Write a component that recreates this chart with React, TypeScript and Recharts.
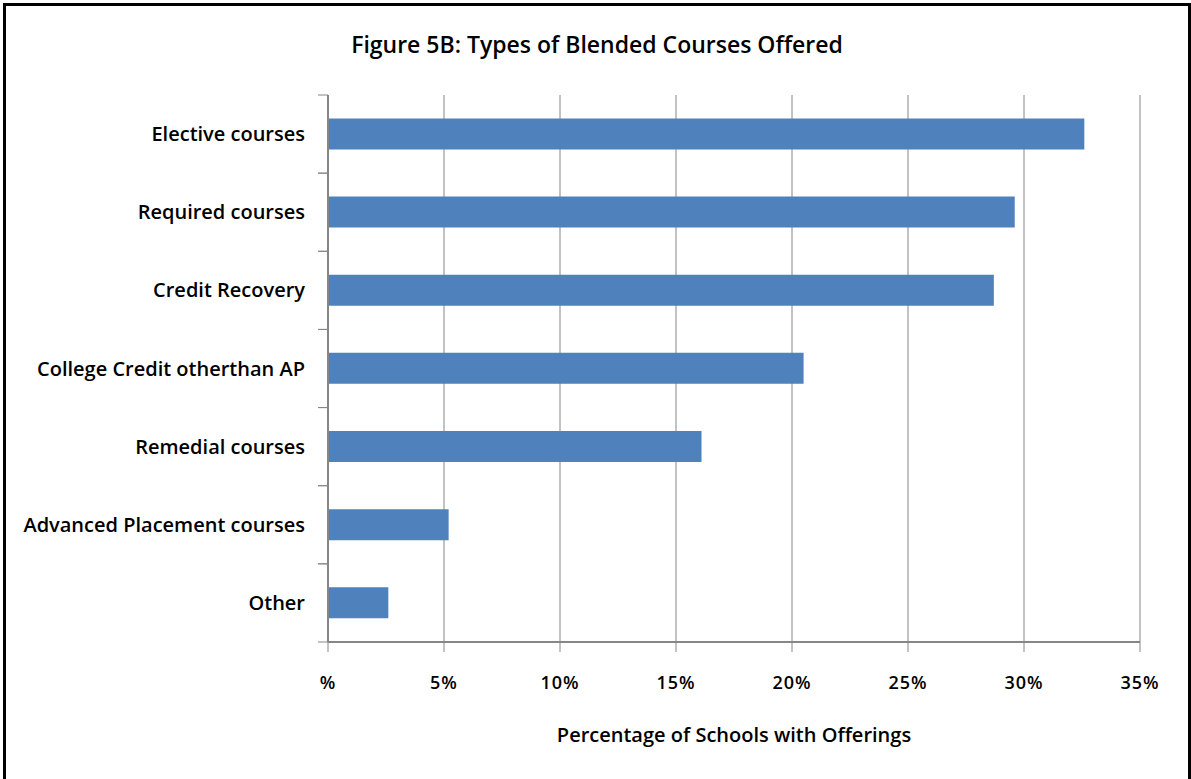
import React from 'react';
import { BarChart, Bar, XAxis, YAxis, CartesianGrid } from 'recharts';

const categories = [
  'Elective courses',
  'Required courses',
  'Credit Recovery',
  'College Credit otherthan AP',
  'Remedial courses',
  'Advanced Placement courses',
  'Other',
];
const values = [32.6, 29.6, 28.7, 20.5, 16.1, 5.2, 2.6];
const xTicks = [0, 5, 10, 15, 20, 25, 30, 35];
const xTickLabels = ['%', '5%', '10%', '15%', '20%', '25%', '30%', '35%'];

const title = 'Figure 5B: Types of Blended Courses Offered';
const xTitle = 'Percentage of Schools with Offerings';

const data = categories.map((name, i) => ({ name, value: values[i] }));

const FONT = '"Open Sans", "DejaVu Sans", sans-serif';
const GREY = '#868686';
const Y_TICK_SIZE = 10;
const Y_TICK_MARGIN = 13;

function CategoryTick(props: any) {
  const { x, y, payload } = props;
  const half = payload && typeof payload.offset === 'number' ? payload.offset : 0;
  const axisX = x + Y_TICK_SIZE + Y_TICK_MARGIN;
  return (
    <g>
      <line x1={axisX - Y_TICK_SIZE} x2={axisX} y1={y - half} y2={y - half} stroke={GREY} strokeWidth={1} />
      <line x1={axisX - Y_TICK_SIZE} x2={axisX} y1={y + half} y2={y + half} stroke={GREY} strokeWidth={1} />
      <text x={x} y={y} dy="0.35em" textAnchor="end" fill="#000" fontSize={20} fontWeight={600} fontFamily={FONT}>
        {payload.value}
      </text>
    </g>
  );
}

export default function App() {
  return (
    <div style={{ position: 'fixed', left: 0, top: 0, width: 1191, height: 779, overflow: 'hidden', background: '#fff', fontFamily: FONT }}>
      <div style={{ position: 'absolute', left: 3, top: 3, width: 1182, height: 800, border: '3px solid #000' }} />
      <div style={{ position: 'absolute', left: 0, top: 29, width: 1194, textAlign: 'center', fontSize: 23, fontWeight: 600, color: '#000', lineHeight: '31px' }}>
        {title}
      </div>
      <div style={{ position: 'absolute', left: 0, top: 0 }}>
        <BarChart
          width={1191}
          height={779}
          data={data}
          layout="vertical"
          margin={{ top: 95, right: 51, left: 0, bottom: 27 }}
          barCategoryGap="30%"
        >
          <CartesianGrid horizontal={false} vertical={true} stroke={GREY} strokeWidth={1} />
          <XAxis
            type="number"
            domain={[0, 35]}
            ticks={xTicks}
            interval={0}
            tickFormatter={(v: number) => xTickLabels[xTicks.indexOf(v)]}
            height={110}
            tickSize={10}
            tickMargin={24}
            axisLine={{ stroke: GREY, strokeWidth: 2 }}
            tickLine={{ stroke: GREY, strokeWidth: 1 }}
            tick={{ fill: '#000', fontSize: 18, fontWeight: 600, fontFamily: FONT, letterSpacing: 1 }}
            label={{ value: xTitle, position: 'insideBottom', offset: 10, fill: '#000', fontSize: 20, fontWeight: 600, fontFamily: FONT }}
          />
          <YAxis
            type="category"
            dataKey="name"
            width={328}
            interval={0}
            tickSize={Y_TICK_SIZE}
            tickMargin={Y_TICK_MARGIN}
            tickLine={false}
            axisLine={{ stroke: GREY, strokeWidth: 2 }}
            tick={<CategoryTick />}
          />
          <Bar dataKey="value" fill="#4F81BD" isAnimationActive={false} />
        </BarChart>
      </div>
    </div>
  );
}
